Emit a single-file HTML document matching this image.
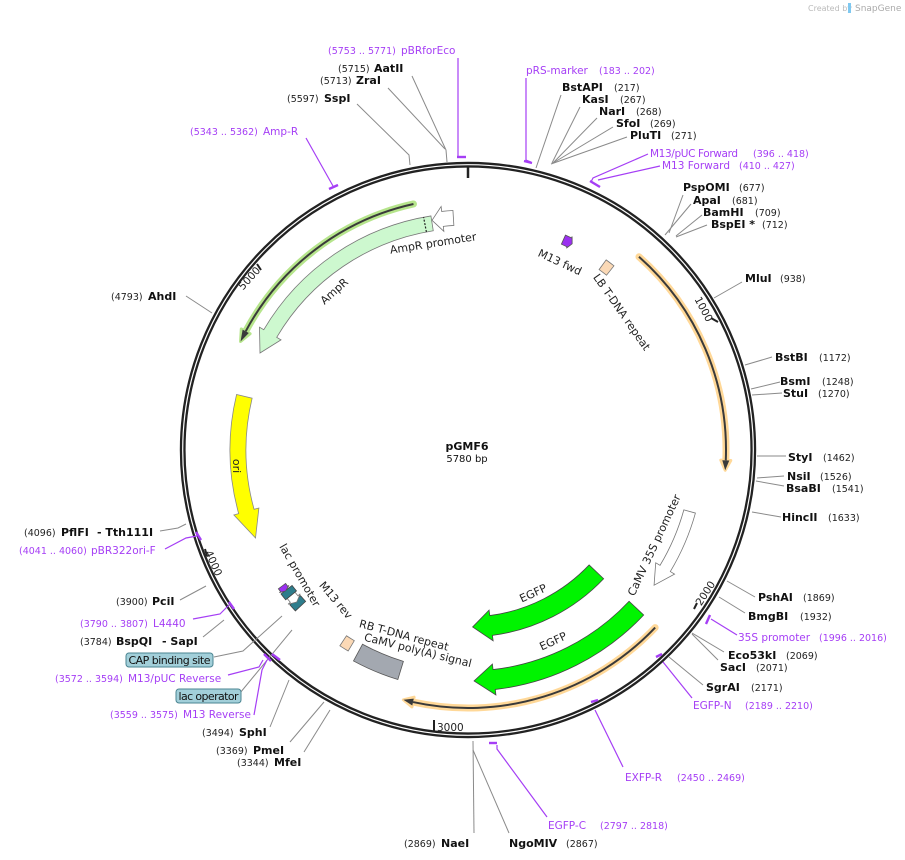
<!DOCTYPE html>
<html><head><meta charset="utf-8">
<style>
html,body{margin:0;padding:0;background:#fff;}
svg{display:block;font-family:"DejaVu Sans","Liberation Sans",sans-serif;}
.n{font-size:11px;font-weight:bold;fill:#111;}
.c{font-size:9.5px;fill:#222;}
.p{font-size:10.5px;fill:#a53ef5;}
.pc{font-size:9.5px;fill:#a53ef5;}
.f{font-size:11px;fill:#222;}
.t{font-size:10.5px;fill:#222;}
.l{stroke:#8a8a8a;stroke-width:1;fill:none;}
.lp{stroke:#a53ef5;stroke-width:1.2;fill:none;}
.tk{stroke:#a53ef5;stroke-width:2.4;fill:none;}
</style></head>
<body>
<svg id="s" width="905" height="860" viewBox="0 0 905 860" xmlns="http://www.w3.org/2000/svg">
<text x="808" y="11" style="font-size:8px;fill:#bbb">Created by</text>
<rect x="848" y="3" width="3" height="10" fill="#7fc8f0"/>
<text x="855" y="11" style="font-size:9px;fill:#aaa">SnapGene</text>

<g id="feat"></g>

<!-- ring -->
<circle cx="468" cy="450" r="285.3" fill="none" stroke="#222" stroke-width="5.8"/>
<circle cx="468" cy="450" r="285.3" fill="none" stroke="#fff" stroke-width="1.2"/>
<line x1="468" y1="166" x2="468" y2="178" stroke="#222" stroke-width="2.5"/>

<!-- leader lines -->
<g>
<polyline class="l" points="412,76 446,150 447,162"/>
<polyline class="l" points="388,88 445,149"/>
<polyline class="l" points="357,104 409,155 410,165"/>
<polyline class="l" points="186,296 212,313"/>
<polyline class="l" points="561,95 536,168"/>
<polyline class="l" points="580,107 552,163"/>
<polyline class="l" points="597,118 553,163"/>
<polyline class="l" points="613,127 553,163"/>
<polyline class="l" points="627,137 551,164"/>
<polyline class="l" points="683,195 669,233"/>
<polyline class="l" points="691,204 665,235"/>
<polyline class="l" points="702,215 676,236"/>
<polyline class="l" points="707,225 676,237"/>
<polyline class="l" points="742,282 714,298"/>
<polyline class="l" points="772,357 745,365"/>
<polyline class="l" points="780,382 751,389"/>
<polyline class="l" points="782,393 752,395"/>
<polyline class="l" points="786,456 757,456"/>
<polyline class="l" points="784,476 757,478"/>
<polyline class="l" points="784,486 756,481"/>
<polyline class="l" points="781,517 752,512"/>
<polyline class="l" points="755,597 727,581"/>
<polyline class="l" points="745,613 719,597"/>
<polyline class="l" points="724,652 692,633"/>
<polyline class="l" points="718,660 692,634"/>
<polyline class="l" points="703,685 669,657"/>
<polyline class="l" points="474,833 473,741"/>
<polyline class="l" points="509,833 473,750"/>
<polyline class="l" points="160,531 178,528 186,524"/>
<polyline class="l" points="180,600 206,586"/>
<polyline class="l" points="203,637 224,620"/>
<polyline class="l" points="214,657 243,651 282,616"/>
<polyline class="l" points="240,693 292,630"/>
<polyline class="l" points="270,727 289,680"/>
<polyline class="l" points="290,742 324,702"/>
<polyline class="l" points="304,752 330,710"/>
<!-- purple primers -->
<polyline class="lp" points="458,58 458,157"/><line class="tk" x1="457" y1="157" x2="466" y2="157"/>
<polyline class="lp" points="306,138 333,186"/><line class="tk" x1="329" y1="189" x2="338" y2="185"/>
<polyline class="lp" points="526,78 526,160 531,162"/><line class="tk" x1="524" y1="161" x2="532" y2="163"/>
<polyline class="lp" points="648,154 593,178 591,182"/>
<polyline class="lp" points="660,166 598,180"/><line class="tk" x1="590" y1="181" x2="600" y2="187"/>
<polyline class="lp" points="737,635 711,619"/><line class="tk" x1="710" y1="615" x2="706" y2="624"/>
<polyline class="lp" points="692,698 663,662"/><line class="tk" x1="656" y1="657" x2="662" y2="654"/>
<polyline class="lp" points="623,767 595,710"/><line class="tk" x1="591" y1="702" x2="598" y2="700"/>
<polyline class="lp" points="547,817 497,749 497,745"/><line class="tk" x1="489" y1="743" x2="497" y2="743"/>
<polyline class="lp" points="165,549 186,538 197,536"/><line class="tk" x1="196" y1="532" x2="201" y2="540"/>
<polyline class="lp" points="193,619 220,614 229,605"/><line class="tk" x1="229" y1="602" x2="234" y2="609"/>
<polyline class="lp" points="228,675 259,667 263,660"/><line class="tk" x1="264" y1="654" x2="271" y2="661"/>
<polyline class="lp" points="254,715 262,670 267,660"/><line class="tk" x1="272" y1="654" x2="280" y2="660"/>
</g>

<!-- tick labels -->
<line x1="711" y1="318" x2="718" y2="322" stroke="#222" stroke-width="2"/>
<text class="t" transform="translate(704,309) rotate(62)" text-anchor="middle" dy="4">1000</text>
<line x1="697" y1="603" x2="694" y2="609" stroke="#222" stroke-width="2"/>
<text class="t" transform="translate(705,593) rotate(-57)" text-anchor="middle" dy="4">2000</text>
<line x1="434" y1="720" x2="434" y2="731" stroke="#222" stroke-width="2"/>
<text class="t" x="437" y="731">3000</text>
<line x1="205" y1="549" x2="207" y2="556" stroke="#222" stroke-width="2"/>
<text class="t" transform="translate(214,563) rotate(66)" text-anchor="middle" dy="4">4000</text>
<line x1="257" y1="264" x2="261" y2="270" stroke="#222" stroke-width="2"/>
<text class="t" transform="translate(249,278) rotate(-48)" text-anchor="middle" dy="4">5000</text>

<!-- feature labels -->
<text class="f" transform="translate(433,243) rotate(-9)" text-anchor="middle" dy="4">AmpR promoter</text>
<text class="f" transform="translate(334,291) rotate(-42)" text-anchor="middle" dy="4">AmpR</text>
<text class="f" transform="translate(237,466) rotate(90)" text-anchor="middle" dy="4">ori</text>
<text class="f" transform="translate(560,262) rotate(25)" text-anchor="middle" dy="4">M13 fwd</text>
<text class="f" transform="translate(622,312) rotate(55)" text-anchor="middle" dy="4">LB T-DNA repeat</text>
<text class="f" transform="translate(654,545) rotate(-65)" text-anchor="middle" dy="4">CaMV 35S promoter</text>
<text class="f" transform="translate(533,593) rotate(-25)" text-anchor="middle" dy="4">EGFP</text>
<text class="f" transform="translate(553,641) rotate(-25)" text-anchor="middle" dy="4">EGFP</text>
<text class="f" transform="translate(300,575) rotate(60)" text-anchor="middle" dy="4">lac promoter</text>
<text class="f" transform="translate(336,600) rotate(50)" text-anchor="middle" dy="4">M13 rev</text>
<text class="f" transform="translate(404,635) rotate(15)" text-anchor="middle" dy="4">RB T-DNA repeat</text>
<text class="f" transform="translate(418,650) rotate(14)" text-anchor="middle" dy="4">CaMV poly(A) signal</text>
<text x="467" y="450" text-anchor="middle" style="font-size:11px;font-weight:bold;fill:#111">pGMF6</text>
<text x="467" y="462" text-anchor="middle" style="font-size:10px;fill:#111">5780 bp</text>

<!-- outer labels -->
<text class="pc" x="328" y="54">(5753 .. 5771)</text><text class="p" x="401" y="54">pBRforEco</text>
<text class="c" x="338" y="72">(5715)</text><text class="n" x="374" y="72">AatII</text>
<text class="c" x="320" y="84">(5713)</text><text class="n" x="356" y="84">ZraI</text>
<text class="c" x="287" y="102">(5597)</text><text class="n" x="324" y="102">SspI</text>
<text class="pc" x="190" y="135">(5343 .. 5362)</text><text class="p" x="263" y="135">Amp-R</text>
<text class="c" x="111" y="300">(4793)</text><text class="n" x="148" y="300">AhdI</text>
<text class="p" x="526" y="74">pRS-marker</text><text class="pc" x="599" y="74">(183 .. 202)</text>
<text class="n" x="562" y="91">BstAPI</text><text class="c" x="614" y="91">(217)</text>
<text class="n" x="582" y="103">KasI</text><text class="c" x="620" y="103">(267)</text>
<text class="n" x="599" y="115">NarI</text><text class="c" x="636" y="115">(268)</text>
<text class="n" x="616" y="127">SfoI</text><text class="c" x="650" y="127">(269)</text>
<text class="n" x="630" y="139">PluTI</text><text class="c" x="671" y="139">(271)</text>
<text class="p" x="650" y="157" textLength="88">M13/pUC Forward</text><text class="pc" x="753" y="157">(396 .. 418)</text>
<text class="p" x="662" y="169">M13 Forward</text><text class="pc" x="739" y="169">(410 .. 427)</text>
<text class="n" x="683" y="191">PspOMI</text><text class="c" x="739" y="191">(677)</text>
<text class="n" x="693" y="204">ApaI</text><text class="c" x="732" y="204">(681)</text>
<text class="n" x="703" y="216">BamHI</text><text class="c" x="755" y="216">(709)</text>
<text class="n" x="711" y="228">BspEI *</text><text class="c" x="762" y="228">(712)</text>
<text class="n" x="745" y="282">MluI</text><text class="c" x="780" y="282">(938)</text>
<text class="n" x="775" y="361">BstBI</text><text class="c" x="819" y="361">(1172)</text>
<text class="n" x="780" y="385">BsmI</text><text class="c" x="822" y="385">(1248)</text>
<text class="n" x="783" y="397">StuI</text><text class="c" x="818" y="397">(1270)</text>
<text class="n" x="788" y="461">StyI</text><text class="c" x="823" y="461">(1462)</text>
<text class="n" x="787" y="480">NsiI</text><text class="c" x="820" y="480">(1526)</text>
<text class="n" x="786" y="492">BsaBI</text><text class="c" x="832" y="492">(1541)</text>
<text class="n" x="782" y="521">HincII</text><text class="c" x="828" y="521">(1633)</text>
<text class="n" x="758" y="601">PshAI</text><text class="c" x="803" y="601">(1869)</text>
<text class="n" x="748" y="620">BmgBI</text><text class="c" x="800" y="620">(1932)</text>
<text class="p" x="738" y="641">35S promoter</text><text class="pc" x="819" y="641">(1996 .. 2016)</text>
<text class="n" x="728" y="659">Eco53kI</text><text class="c" x="786" y="659">(2069)</text>
<text class="n" x="720" y="671">SacI</text><text class="c" x="756" y="671">(2071)</text>
<text class="n" x="706" y="691">SgrAI</text><text class="c" x="751" y="691">(2171)</text>
<text class="p" x="693" y="709">EGFP-N</text><text class="pc" x="745" y="709">(2189 .. 2210)</text>
<text class="p" x="625" y="781">EXFP-R</text><text class="pc" x="677" y="781">(2450 .. 2469)</text>
<text class="p" x="548" y="829">EGFP-C</text><text class="pc" x="600" y="829">(2797 .. 2818)</text>
<text class="c" x="404" y="847">(2869)</text><text class="n" x="441" y="847">NaeI</text>
<text class="n" x="509" y="847">NgoMIV</text><text class="c" x="566" y="847">(2867)</text>
<text class="c" x="24" y="536">(4096)</text><text class="n" x="61" y="536">PflFI</text><text class="n" x="97" y="536">- Tth111I</text>
<text class="pc" x="19" y="554">(4041 .. 4060)</text><text class="p" x="91" y="554">pBR322ori-F</text>
<text class="c" x="116" y="605">(3900)</text><text class="n" x="152" y="605">PciI</text>
<text class="pc" x="80" y="627">(3790 .. 3807)</text><text class="p" x="153" y="627">L4440</text>
<text class="c" x="80" y="645">(3784)</text><text class="n" x="116" y="645">BspQI</text><text class="n" x="162" y="645">- SapI</text>
<rect x="126" y="653" width="87" height="14" rx="3" fill="#a2cfd9" stroke="#4b8592"/>
<text x="169.5" y="664" text-anchor="middle" textLength="82" style="font-size:11px;fill:#111">CAP binding site</text>
<text class="pc" x="55" y="682">(3572 .. 3594)</text><text class="p" x="128" y="682">M13/pUC Reverse</text>
<rect x="176" y="689" width="65" height="14" rx="3" fill="#a2cfd9" stroke="#4b8592"/>
<text x="208.5" y="700" text-anchor="middle" textLength="60" style="font-size:11px;fill:#111">lac operator</text>
<text class="pc" x="110" y="718">(3559 .. 3575)</text><text class="p" x="183" y="718">M13 Reverse</text>
<text class="c" x="202" y="736">(3494)</text><text class="n" x="239" y="736">SphI</text>
<text class="c" x="216" y="754">(3369)</text><text class="n" x="253" y="754">PmeI</text>
<text class="c" x="237" y="766">(3344)</text><text class="n" x="274" y="766">MfeI</text>
</svg>
<script>
(function(){
var cx=468,cy=450,NS="http://www.w3.org/2000/svg",g=document.getElementById("feat");
function P(a,r){a=a*Math.PI/180;return (cx+r*Math.sin(a)).toFixed(2)+","+(cy-r*Math.cos(a)).toFixed(2);}
function A(r,a1,a2){var sw=a2>a1?1:0,lg=Math.abs(a2-a1)>180?1:0;return "A"+r+","+r+" 0 "+lg+","+sw+" "+P(a2,r);}
function add(tag,at){var e=document.createElementNS(NS,tag);for(var k in at)e.setAttribute(k,at[k]);g.appendChild(e);return e;}
function arrow(a1,a2,r1,r2,hd,fl,fill,stroke,sw){
 var d=a2>a1?1:-1,ah=a2-d*hd,m=(r1+r2)/2;
 var p="M"+P(a1,r2)+A(r2,a1,ah)+"L"+P(ah,r2+fl)+"L"+P(a2,m)+"L"+P(ah,r1-fl)+"L"+P(ah,r1)+A(r1,ah,a1)+"Z";
 add("path",{d:p,fill:fill,stroke:stroke,"stroke-width":sw||0.8});}
function box(a1,a2,r1,r2,fill,stroke){
 add("path",{d:"M"+P(a1,r2)+A(r2,a1,a2)+"L"+P(a2,r1)+A(r1,a2,a1)+"Z",fill:fill,stroke:stroke,"stroke-width":0.8});}
function line(a1,a2,r,glow,hd){
 var d=a2>a1?1:-1,ah=a2-d*hd;
 add("path",{d:"M"+P(a1,r)+A(r,a1,ah),fill:"none",stroke:glow,"stroke-width":7,"stroke-linecap":"round"});
 add("path",{d:"M"+P(ah,r+5)+"L"+P(a2,r)+"L"+P(ah,r-5)+"Z",fill:glow,stroke:glow,"stroke-width":3,"stroke-linejoin":"round"});
 add("path",{d:"M"+P(a1,r)+A(r,a1,ah),fill:"none",stroke:"#3a3a3a","stroke-width":2});
 add("path",{d:"M"+P(ah,r+3.5)+"L"+P(a2,r)+"L"+P(ah,r-3.5)+"Z",fill:"#3a3a3a"});}
arrow(-9,-65,222,237,5.5,5,"#cdf8cf","#777");
add("path",{d:"M"+P(-10.8,222)+"L"+P(-10.8,237),stroke:"#222","stroke-width":1.2,"stroke-dasharray":"2,1.5"});
arrow(-3.6,-8.9,225,240,2.6,5,"#fff","#777");
line(-12.5,-64.5,252,"#b6e58c",2.6);
arrow(-76.5,-112.5,222,238,7,5,"#ffff00","#888");
line(41.5,94.5,258,"#ffd898",2.2);
line(133.5,194.5,258,"#ffd898",2.2);
arrow(105.5,126,224,236,5,5,"#fff","#777");
arrow(133.5,178.5,167,187,6,5.5,"#00f400","#444");
arrow(133.2,178.5,221,241,5,5.5,"#00f400","#444");
box(197,208.5,221,240,"#a3a8b0","#555");
box(210.8,213.2,222,234,"#fbd9b6","#777");
box(36,38.4,223,235,"#fbd9b6","#777");
arrow(24.4,26.8,226,236,0.8,1.5,"#9b30f0","#555");
box(227,229,222,236,"#2e7d8c","#444");
arrow(230.6,228.4,224,234,1.0,3,"#fff","#777");
box(230.6,232.4,222,236,"#2e7d8c","#444");
arrow(233.8,232.3,226,235,0.6,1.5,"#9b30f0","#555");
})();
</script>
</body></html>
